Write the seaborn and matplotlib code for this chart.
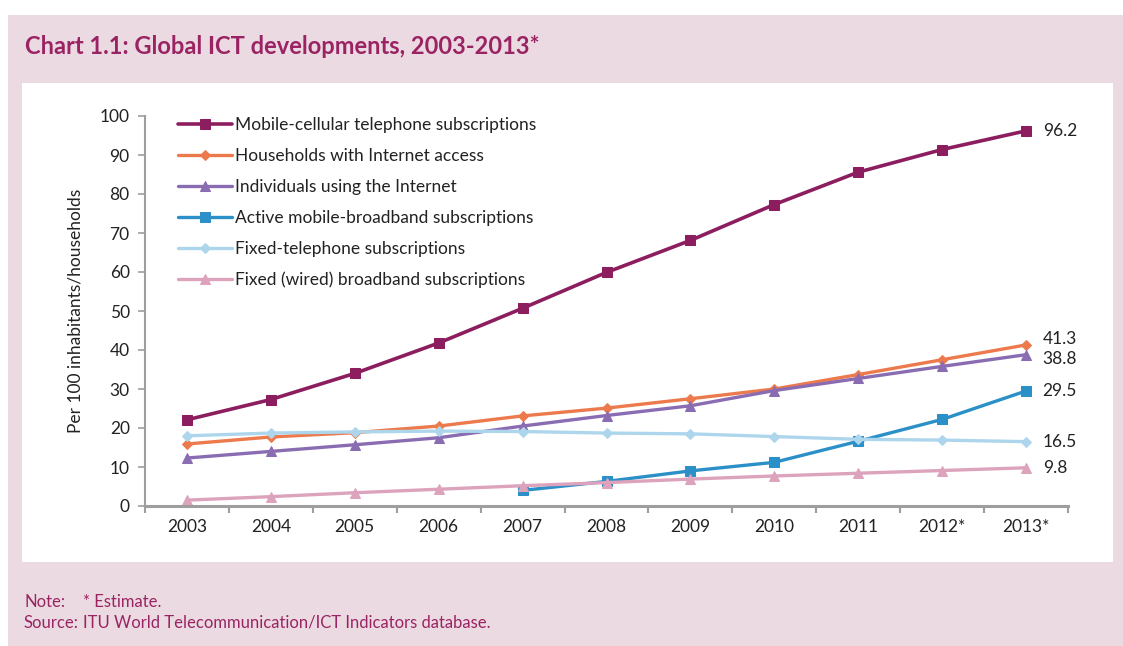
import matplotlib
matplotlib.use("Agg")
import matplotlib.pyplot as plt
from matplotlib.patches import Rectangle
import seaborn as sns
import pandas as pd

# --- data -------------------------------------------------------------
years = ["2003", "2004", "2005", "2006", "2007", "2008", "2009", "2010",
         "2011", "2012*", "2013*"]

mobile_cellular = [22.1, 27.3, 34.0, 41.8, 50.7, 59.9, 68.1, 77.3, 85.6, 91.4, 96.2]
households_internet = [15.9, 17.7, 18.8, 20.5, 23.1, 25.1, 27.5, 30.0, 33.7, 37.5, 41.3]
individuals_internet = [12.3, 14.0, 15.7, 17.5, 20.5, 23.2, 25.7, 29.6, 32.7, 35.8, 38.8]
mobile_broadband = [None, None, None, None, 4.0, 6.3, 9.0, 11.2, 16.6, 22.2, 29.5]
fixed_telephone = [18.0, 18.7, 19.0, 19.2, 19.1, 18.7, 18.5, 17.8, 17.1, 16.9, 16.5]
fixed_broadband = [1.5, 2.4, 3.4, 4.3, 5.2, 6.0, 6.9, 7.7, 8.4, 9.1, 9.8]

series_names = [
    "Mobile-cellular telephone subscriptions",
    "Households with Internet access",
    "Individuals using the Internet",
    "Active mobile-broadband subscriptions",
    "Fixed-telephone subscriptions",
    "Fixed (wired) broadband subscriptions",
]
series_values = [mobile_cellular, households_internet, individuals_internet,
                 mobile_broadband, fixed_telephone, fixed_broadband]

title = "Chart 1.1: Global ICT developments, 2003-2013*"
y_label = "Per 100 inhabitants/households"

# --- styling ----------------------------------------------------------
colors = ["#8C1D5E", "#EC7A4C", "#8A6CB2", "#2B90C8", "#ADD6EC", "#DDA3BC"]
markers = ["s", "D", "^", "s", "D", "^"]
marker_sizes = [7.5, 5.5, 7.5, 7.5, 5.5, 7.5]
line_widths = [2.6, 2.4, 2.4, 2.4, 2.4, 2.4]
label_offsets = [0, 4, -3, 0, 0, 0]  # vertical nudges (points) for end labels

sns.set_theme(style="white")
plt.rcParams["font.family"] = ["Lato", "DejaVu Sans"]

accent = "#9A2463"
text_col = "#222222"
axis_col = "#9E9E9E"
fs = 12.5

fig = plt.figure(figsize=(11.23, 6.46), dpi=100)
W, H = 1123, 646

# background panels
fig.patches.append(Rectangle((8 / W, 0), 1 - 8 / W, (H - 15) / H,
                             transform=fig.transFigure, facecolor="#EBDAE1",
                             edgecolor="none", zorder=-2))
fig.patches.append(Rectangle((22 / W, (H - 562) / H), (1113 - 22) / W, (562 - 83) / H,
                             transform=fig.transFigure, facecolor="white",
                             edgecolor="none", zorder=-1))

ax = fig.add_axes([145 / W, (H - 506) / H, (1068 - 145) / W, (506 - 116) / H])
ax.set_facecolor("none")
ax.set_zorder(2)

x_pos = list(range(len(years)))
for name, vals, c, m, ms, lw in zip(series_names, series_values, colors,
                                    markers, marker_sizes, line_widths):
    df = pd.DataFrame({"x": x_pos, "y": vals}).dropna()
    sns.lineplot(data=df, x="x", y="y", ax=ax, color=c, marker=m,
                 markersize=ms, markeredgecolor=c, linewidth=lw, label=name)

# end-of-line value labels
for vals, off in zip(series_values, label_offsets):
    last = vals[-1]
    ax.annotate(f"{last:.1f}", xy=(len(years) - 1, last),
                xytext=(12, off), textcoords="offset points",
                ha="left", va="center", fontsize=fs, color=text_col,
                annotation_clip=False)

# axes
ax.set_xlim(-0.5, len(years) - 0.5)
ax.set_ylim(0, 100)
ax.set_yticks(range(0, 101, 10))
ax.set_xticks(x_pos)
ax.set_xticklabels(years)
ax.set_xticks([i - 0.5 for i in range(len(years) + 1)], minor=True)
ax.tick_params(axis="x", which="major", length=0, pad=9,
               labelsize=fs, labelcolor=text_col)
ax.tick_params(axis="x", which="minor", length=5, width=1.5,
               color=axis_col, direction="out", bottom=True)
ax.tick_params(axis="y", which="major", length=5, width=1.2,
               color=axis_col, direction="out", left=True,
               labelsize=fs, labelcolor=text_col, pad=6)
ax.set_xlabel("")
ax.set_ylabel(y_label, fontsize=fs, color=text_col, labelpad=12)

for side in ["top", "right"]:
    ax.spines[side].set_visible(False)
ax.spines["left"].set_color(axis_col)
ax.spines["left"].set_linewidth(1.5)
ax.spines["bottom"].set_color(axis_col)
ax.spines["bottom"].set_linewidth(2.2)

leg = ax.legend(loc="upper left", bbox_to_anchor=(0.028, 1.015), frameon=False,
                fontsize=fs, labelspacing=0.86, handlelength=3.1,
                handletextpad=0.2, borderaxespad=0)
for t in leg.get_texts():
    t.set_color(text_col)

# title and footnotes
fig.text(25 / W, 1 - 46 / H, title, fontsize=17, fontweight="bold",
         color=accent, va="center", ha="left")
fig.text(24 / W, 1 - 602 / H, "Note:", fontsize=12, color=accent, va="center")
fig.text(83 / W, 1 - 602 / H, "* Estimate.", fontsize=12, color=accent, va="center")
fig.text(24 / W, 1 - 623 / H, "Source:", fontsize=12, color=accent, va="center")
fig.text(83 / W, 1 - 623 / H, "ITU World Telecommunication/ICT Indicators database.",
         fontsize=12, color=accent, va="center")

fig.savefig("out.png", dpi=100, facecolor="white")
